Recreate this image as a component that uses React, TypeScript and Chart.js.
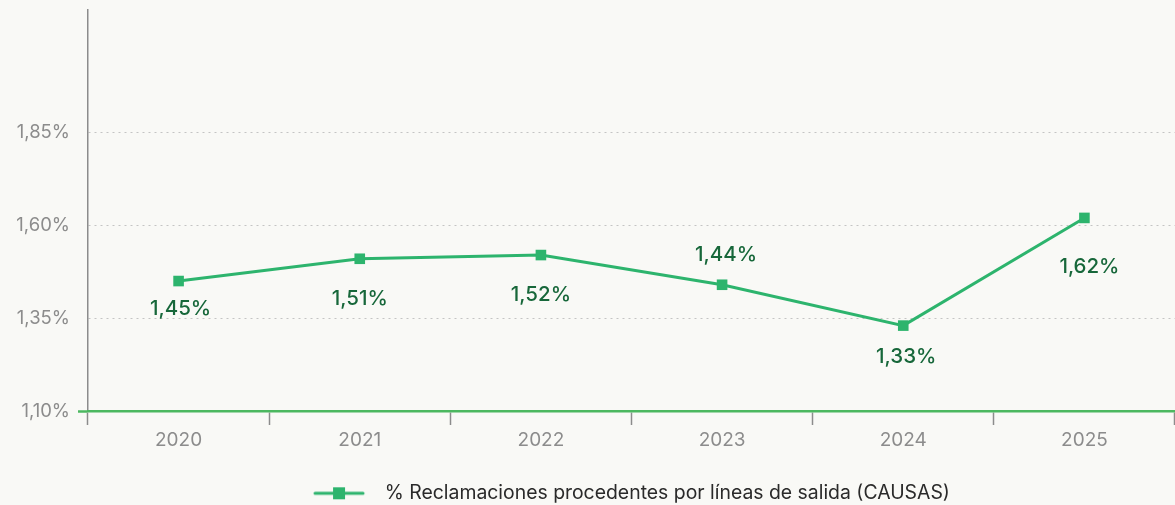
import React, { useEffect, useRef } from "react";
import { Chart, registerables } from "chart.js";

Chart.register(...registerables);

const categories = ["2020", "2021", "2022", "2023", "2024", "2025"];
const seriesName = "% Reclamaciones procedentes por líneas de salida (CAUSAS)";
const seriesValues = [1.45, 1.51, 1.52, 1.44, 1.33, 1.62];
const yTickValues = [1.1, 1.35, 1.6, 1.85];
// per-point label offsets in px [dx, dy] relative to the point
const labelOffsets: [number, number][] = [
  [2, 28],
  [0, 40],
  [0, 40],
  [4, -30],
  [3, 31],
  [5, 49],
];

const BG = "#f9f9f6";
const LINE = "#2db46d";
const LABEL = "#17673a";
const AXIS_GREEN = "#4cb860";
const GRAY = "#8c8c8c";
const FONT = "Inter, 'Noto Sans', sans-serif";

const fmt = (v: number) => v.toFixed(2).replace(".", ",") + "%";

const valueLabelPlugin = {
  id: "valueLabels",
  afterDatasetsDraw(chart: any) {
    const ctx = chart.ctx;
    const meta = chart.getDatasetMeta(0);
    ctx.save();
    ctx.font = `500 20.5px ${FONT}`;
    ctx.fillStyle = LABEL;
    ctx.textAlign = "center";
    ctx.textBaseline = "middle";
    meta.data.forEach((pt: any, i: number) => {
      const [dx, dy] = labelOffsets[i];
      ctx.fillText(fmt(seriesValues[i]), pt.x + dx, pt.y + dy);
    });
    ctx.restore();
  },
};

const bgPlugin = {
  id: "bg",
  beforeDraw(chart: any) {
    const ctx = chart.ctx;
    ctx.save();
    ctx.fillStyle = BG;
    ctx.fillRect(0, 0, chart.width, chart.height);
    ctx.restore();
  },
};

// nudges the legend row down a little after layout
const legendShiftPlugin = {
  id: "legendShift",
  afterLayout(chart: any) {
    const lg = chart.legend;
    if (lg) {
      lg.top += 7;
      lg.bottom += 7;
    }
  },
};

function makeLegendMarker() {
  const c = document.createElement("canvas");
  c.width = 62;
  c.height = 14;
  const g = c.getContext("2d")!;
  g.strokeStyle = LINE;
  g.lineWidth = 3;
  g.lineCap = "round";
  g.beginPath();
  g.moveTo(2, 7);
  g.lineTo(50, 7);
  g.stroke();
  g.fillStyle = LINE;
  g.fillRect(20, 1, 12, 12);
  return c;
}

export default function App() {
  const ref = useRef<HTMLCanvasElement>(null);
  useEffect(() => {
    document.body.style.margin = "0";
    document.body.style.background = BG;
    const marker = makeLegendMarker();
    const chart = new Chart(ref.current!, {
      type: "line",
      data: {
        labels: categories,
        datasets: [
          {
            label: seriesName,
            data: seriesValues,
            borderColor: LINE,
            backgroundColor: LINE,
            borderWidth: 3,
            pointStyle: "rect",
            pointRadius: 7.5,
            pointBorderWidth: 0,
            pointBackgroundColor: LINE,
            tension: 0,
            clip: false,
          },
        ],
      },
      options: {
        animation: false,
        responsive: false,
        layout: { autoPadding: false, padding: { top: 10, right: 0, left: 0, bottom: -1 } },
        plugins: {
          tooltip: { enabled: false },
          legend: {
            position: "bottom",
            fullSize: false,
            labels: {
              usePointStyle: true,
              pointStyleWidth: 62,
              color: "#2a2a2a",
              padding: 0,
              font: { family: FONT, size: 19.4 },
              generateLabels(chart: any) {
                const items = Chart.defaults.plugins.legend.labels.generateLabels(chart);
                return items.map((it: any) => ({ ...it, pointStyle: marker }));
              },
            },
          },
        },
        scales: {
          x: {
            offset: true,
            afterFit(scale: any) {
              scale.height += 20.8;
              scale.paddingLeft = 0;
              scale.paddingRight = 0;
            },
            grid: {
              offset: true,
              drawOnChartArea: false,
              drawTicks: true,
              tickLength: 14,
              tickColor: GRAY,
              tickWidth: 1.5,
            },
            border: { display: true, color: AXIS_GREEN, width: 2.5, z: 2 },
            ticks: {
              color: GRAY,
              padding: 4,
              font: { family: FONT, size: 19 },
            },
          },
          y: {
            min: 1.1,
            max: 2.18,
            afterBuildTicks(scale: any) {
              scale.ticks = yTickValues.map((v) => ({ value: v }));
            },
            afterFit(scale: any) {
              scale.width = 88;
              scale.paddingTop = 0;
              scale.paddingBottom = 0;
            },
            grid: {
              color: "#c4c4c4",
              lineWidth: 1,
              drawTicks: true,
              tickLength: 10,
              tickColor: (c: any) => (c.index === 0 ? AXIS_GREEN : "rgba(0,0,0,0)"),
              tickWidth: 2.5,
            },
            border: { display: true, color: GRAY, width: 1.5, dash: [2, 4] },
            ticks: {
              color: GRAY,
              padding: 8,
              font: { family: FONT, size: 18.5 },
              callback: (v: any) => fmt(Number(v)),
            },
          },
        },
      },
      plugins: [bgPlugin, valueLabelPlugin, legendShiftPlugin],
    } as any);
    return () => chart.destroy();
  }, []);
  return (
    <div style={{ width: 1175, height: 505, background: BG }}>
      <canvas ref={ref} width={1175} height={505} style={{ display: "block" }} />
    </div>
  );
}
